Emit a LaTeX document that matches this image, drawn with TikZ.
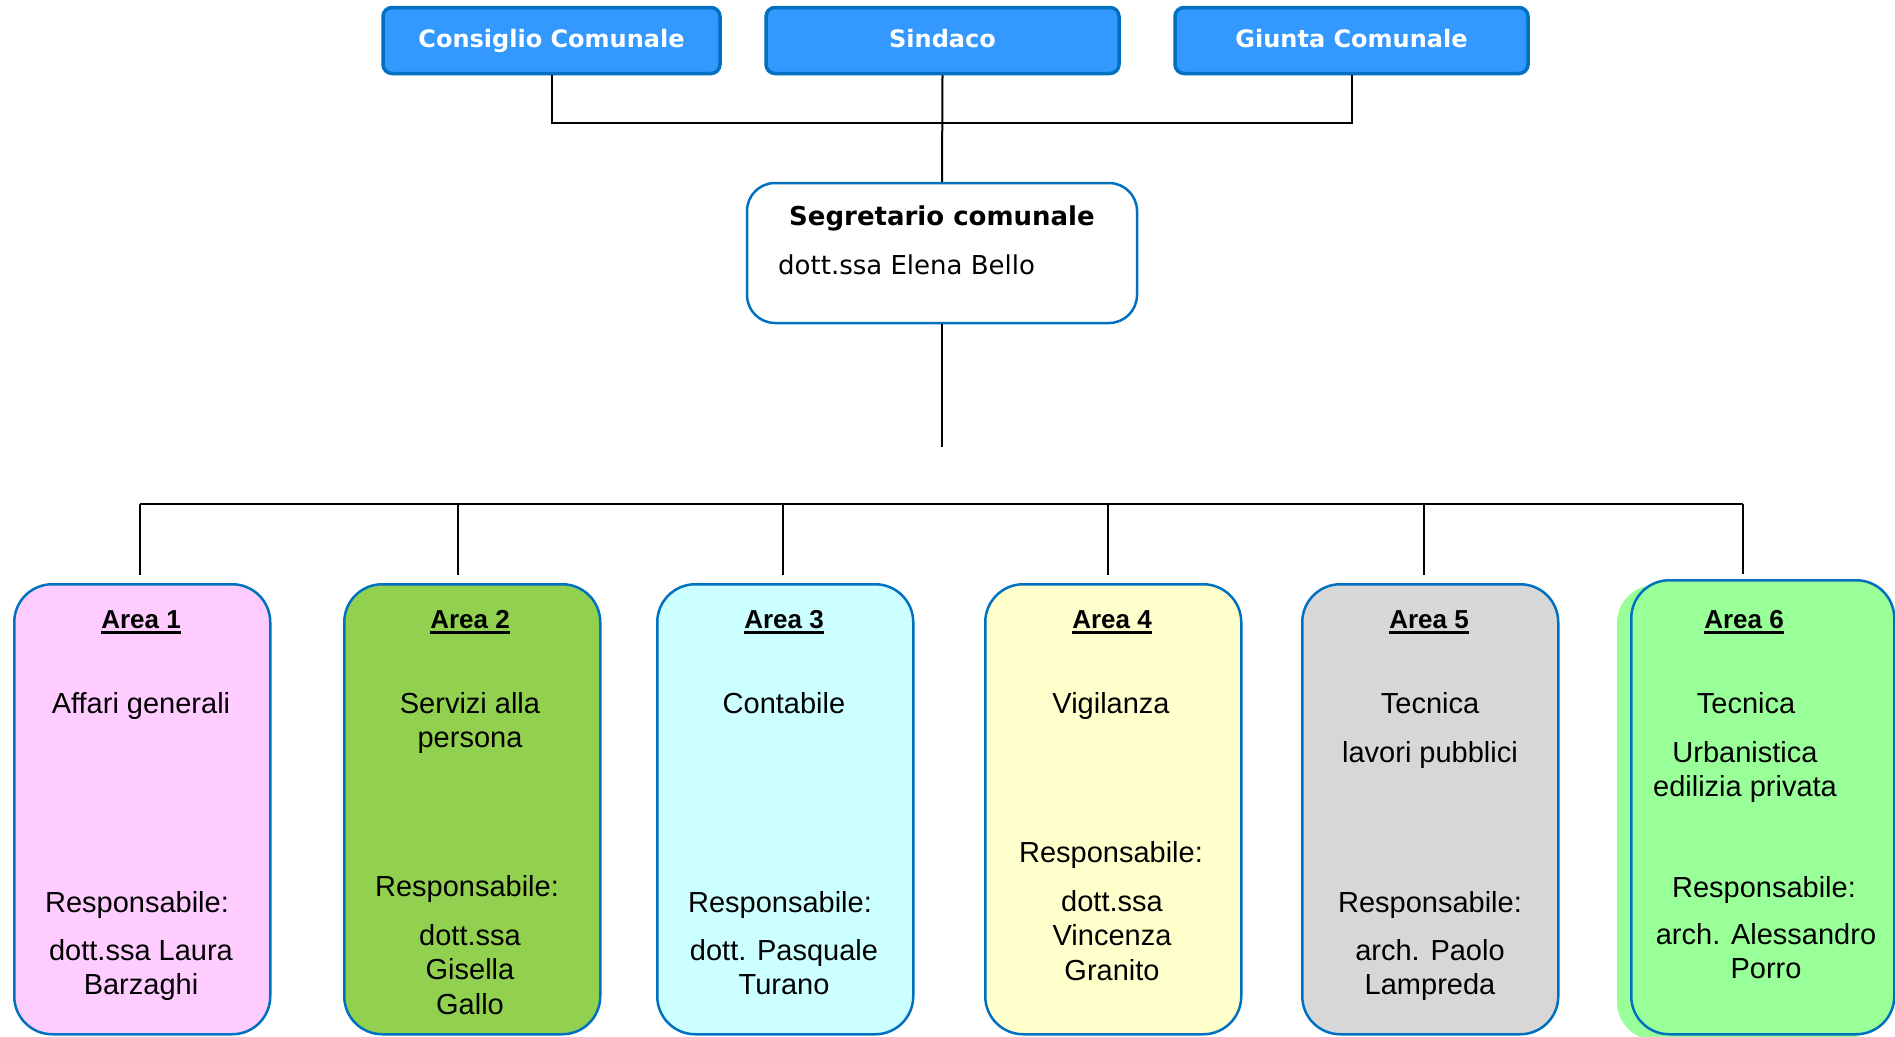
\documentclass[tikz,border=0pt]{standalone}
\usepackage{fontspec}
\setmainfont{Liberation Sans}
\newfontfamily\dejavu{DejaVu Sans}
\definecolor{topblue}{HTML}{3399FF}
\definecolor{bordblue}{HTML}{0070C0}
\definecolor{aone}{HTML}{FFCCFF}
\definecolor{atwo}{HTML}{92D050}
\definecolor{athree}{HTML}{CCFFFF}
\definecolor{afour}{HTML}{FFFFCC}
\definecolor{afive}{HTML}{D7D7D7}
\definecolor{asix}{HTML}{99FF99}
\begin{document}
\begin{tikzpicture}[x=1pt,y=-1pt,
  topbox/.style={draw=bordblue, fill=topblue, line width=3.5pt, rounded corners=9pt,
    minimum height=66pt, inner sep=0pt, text=white,
    font=\dejavu\bfseries\fontsize{24}{28}\selectfont, text height=17.5pt, text depth=4.5pt},
  segbox/.style={draw=bordblue, fill=white, line width=2.5pt, rounded corners=28pt,
    minimum width=390pt, minimum height=140pt, inner sep=0pt},
  areabox/.style={draw=bordblue, line width=2.5pt, rounded corners=38pt,
    minimum width=256pt, minimum height=450pt, anchor=north west, inner sep=0pt},
  txt/.style={inner sep=0pt, anchor=base, font=\fontsize{29}{34.5}\selectfont},
  ttl/.style={inner sep=0pt, anchor=base, font=\bfseries\fontsize{26}{30}\selectfont},
  segtxt/.style={inner sep=0pt, font=\dejavu\fontsize{26}{30}\selectfont},
  conn/.style={line width=2pt, black},
  uline/.style={line width=2.2pt, black}
]
\useasboundingbox (0,0) rectangle (1895,1036);

% top boxes
\node[topbox, minimum width=337pt] (cons) at (551.5,40.5) {Consiglio Comunale};
\node[topbox, minimum width=353pt] (sind) at (942.5,40.5) {Sindaco};
\node[topbox, minimum width=353pt] (giun) at (1351.5,40.5) {Giunta Comunale};

% segretario
\node[segbox] (segr) at (942,253) {};
\node[segtxt, anchor=base, font=\dejavu\bfseries\fontsize{26}{30}\selectfont] (segt) at (942,225) {Segretario comunale};
\node[segtxt, anchor=base west] (segn) at (778,274) {dott.ssa Elena Bello};

% connectors top
\draw[conn] (cons.south) -- ++(0,48) -| (giun.south);
\draw[conn] (sind.south) -- (segr.north);
\coordinate (segend) at (942,447);
\draw[conn] (segr.south) -- (segend);

% area boxes
\fill[asix, rounded corners=38pt] (1617,585) rectangle (1880,1040);
\node[areabox, fill=aone] (a1) at (13,583) {};
\node[areabox, fill=atwo] (a2) at (343,583) {};
\node[areabox, fill=athree] (a3) at (656,583) {};
\node[areabox, fill=afour] (a4) at (984,583) {};
\node[areabox, fill=afive] (a5) at (1301,583) {};
\node[areabox, fill=asix, minimum width=263pt, minimum height=454pt] (a6) at (1630,579) {};

% bus
\coordinate (b1) at (140,504);
\coordinate (b2) at (458,504);
\coordinate (b3) at (783,504);
\coordinate (b4) at (1108,504);
\coordinate (b5) at (1424,504);
\coordinate (b6) at (1743,504);
\draw[conn] (b1) -- (b6);
\draw[conn, shorten >=8pt] (b1) -- (b1 |- a1.north);
\draw[conn, shorten >=8pt] (b2) -- (b2 |- a2.north);
\draw[conn, shorten >=8pt] (b3) -- (b3 |- a3.north);
\draw[conn, shorten >=8pt] (b4) -- (b4 |- a4.north);
\draw[conn, shorten >=8pt] (b5) -- (b5 |- a5.north);
\draw[conn, shorten >=5pt] (b6) -- (b6 |- a6.north);

% titles
\node[ttl] (t1) at (141,628) {Area 1};
\node[ttl] (t2) at (470,628) {Area 2};
\node[ttl] (t3) at (784,628) {Area 3};
\node[ttl] (t4) at (1112,628) {Area 4};
\node[ttl] (t5) at (1429,628) {Area 5};
\node[ttl] (t6) at (1744,628) {Area 6};
\foreach \t in {t1,t2,t3,t4,t5,t6}
  \draw[uline] ([yshift=-4.5pt]\t.base west) -- ([yshift=-4.5pt]\t.base east);

% Area 1
\node[txt] (a1d) at (141,713) {Affari generali};
\node[txt] (a1r) at (137,912) {Responsabile:};
\node[txt] (a1p) at (141,960) {\begin{tabular}[t]{@{}c@{}}dott.ssa Laura\\Barzaghi\end{tabular}};

% Area 2
\node[txt] (a2d) at (470,713) {\begin{tabular}[t]{@{}c@{}}Servizi alla\\persona\end{tabular}};
\node[txt] (a2r) at (467,896) {Responsabile:};
\node[txt] (a2p) at (470,945) {\begin{tabular}[t]{@{}c@{}}dott.ssa\\Gisella\\Gallo\end{tabular}};

% Area 3
\node[txt] (a3d) at (784,713) {Contabile};
\node[txt] (a3r) at (780,912) {Responsabile:};
\node[txt] (a3p) at (784,960) {\begin{tabular}[t]{@{}c@{}}dott. Pasquale\\Turano\end{tabular}};

% Area 4
\node[txt] (a4d) at (1111,713) {Vigilanza};
\node[txt] (a4r) at (1111,862) {Responsabile:};
\node[txt] (a4p) at (1112,911) {\begin{tabular}[t]{@{}c@{}}dott.ssa\\Vincenza\\Granito\end{tabular}};

% Area 5
\node[txt] (a5d) at (1430,713) {Tecnica};
\node[txt] (a5e) at (1430,762) {lavori pubblici};
\node[txt] (a5r) at (1430,912) {Responsabile:};
\node[txt] (a5p) at (1430,960) {\begin{tabular}[t]{@{}c@{}}arch. Paolo\\Lampreda\end{tabular}};

% Area 6
\node[txt] (a6d) at (1746,713) {Tecnica};
\node[txt] (a6e) at (1745,762) {\begin{tabular}[t]{@{}c@{}}Urbanistica\\edilizia privata\end{tabular}};
\node[txt] (a6r) at (1764,897) {Responsabile:};
\node[txt] (a6p) at (1766,944) {\begin{tabular}[t]{@{}c@{}}arch. Alessandro\\Porro\end{tabular}};
\end{tikzpicture}
\end{document}
